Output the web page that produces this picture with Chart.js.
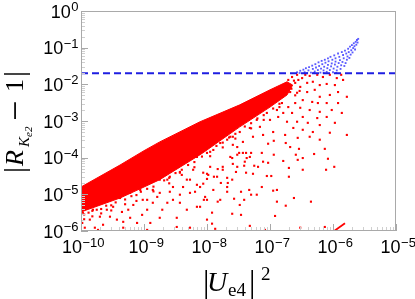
<!DOCTYPE html>
<html>
<head>
<meta charset="utf-8">
<script src="https://cdn.jsdelivr.net/npm/chart.js@4"></script>
<style>
  html, body { margin: 0; padding: 0; background: #fff; }
  canvas { display: block; }
</style>
</head>
<body>
<canvas id="chart" width="415" height="299"></canvas>
<script>
// axis decades (exponents of ten)
var uTickExp = [-10, -9, -8, -7, -6, -5];
var rTickExp = [-6, -5, -4, -3, -2, -1, 0];

// threshold |R - 1|
var threshold = 2e-2;

// dense band of points: upper and lower edge, [log10 |Ue4|^2, log10 |R-1|]
var bandTopExp = [
  [-10, -4.80], [-9.38, -4.20], [-9, -3.81], [-8.75, -3.57], [-8.11, -3.02], [-8, -2.94],
  [-7.48, -2.56], [-7, -2.15], [-6.73, -1.93], [-6.64, -2.02]
];
var bandBottomExp = [
  [-10, -5.48], [-9.38, -5.10], [-9, -4.80], [-8.75, -4.60], [-8.11, -3.92], [-8, -3.79],
  [-7.48, -3.16], [-7, -2.62], [-6.73, -2.29], [-6.64, -2.02]
];

// scattered red points below the threshold, [log10 |Ue4|^2, log10 |R-1|]
var redScatter = [
  [-6.13,-3.76],[-6.08,-4.03],[-5.98,-4.25],[-6.11,-4.33],[-6.30,-3.90],[-6.35,-5.20],[-6.48,-4.33],[-6.54,-3.76],
  [-6.48,-4.01],[-6.56,-4.06],[-6.59,-3.92],[-6.70,-4.28],[-6.70,-4.52],[-6.62,-5.10],[-6.75,-5.31],[-6.89,-5.20],
  [-6.89,-4.88],[-6.95,-4.90],[-6.92,-5.59],[-6.68,-3.71],[-6.75,-3.60],[-6.94,-3.54],[-6.79,-4.09],[-6.94,-3.92],
  [-7.03,-3.62],[-7.13,-3.87],[-7.03,-4.14],[-7.11,-4.11],[-7.19,-4.25],[-6.98,-4.50],[-7.05,-4.50],[-7.13,-4.80],
  [-7.21,-5.01],[-7.30,-5.01],[-7.33,-4.88],[-7.37,-4.01],[-7.32,-3.98],[-7.40,-4.11],[-7.38,-3.87],[-7.49,-3.87],
  [-7.41,-4.22],[-7.54,-4.39],[-7.38,-4.41],[-7.27,-4.44],[-7.46,-4.93],[-7.41,-5.15],[-7.57,-5.12],[-7.48,-5.29],
  [-7.60,-5.53],[-7.46,-5.56],[-7.67,-4.69],[-7.68,-4.93],[-7.83,-5.20],[-7.90,-4.88],[-7.92,-5.50],[-7.92,-5.80],
  [-8.00,-5.69],[-8.05,-5.15],[-8.06,-4.71],[-8.00,-4.44],[-8.00,-4.58],[-7.89,-4.52],[-7.83,-4.31],[-7.78,-4.69],
  [-7.68,-4.55],[-7.75,-4.33],[-7.59,-4.17],[-7.60,-4.01],[-7.52,-3.92],[-7.43,-3.87],[-7.30,-3.87],[-7.25,-4.22],
  [-6.13,-5.89],
  [-6.71,-1.88],[-6.65,-1.80],[-6.57,-1.74],[-6.49,-1.83],[-6.44,-1.74],[-6.37,-1.77],[-6.25,-1.74],[-6.16,-1.80],
  [-6.05,-1.74],[-5.94,-1.83],[-5.87,-1.74],[-6.60,-1.96],[-6.52,-2.07],[-6.41,-1.96],[-6.32,-1.93],[-6.21,-2.02],
  [-6.10,-1.99],[-5.97,-2.02],[-5.84,-1.88],[-6.41,-2.21],[-6.29,-2.15],[-6.57,-2.23],[-6.68,-2.21],[-6.21,-2.34],
  [-6.05,-2.29],[-5.92,-2.21],[-5.78,-2.34],[-6.48,-2.43],[-6.33,-2.48],[-6.24,-2.51],[-6.10,-2.51],[-5.92,-2.51],
  [-6.60,-2.51],[-6.71,-2.62],[-6.52,-2.64],[-6.37,-2.70],[-6.21,-2.75],[-6.02,-2.70],[-5.86,-2.78],[-6.65,-2.78],
  [-6.48,-2.89],[-6.25,-2.92],[-6.10,-2.89],[-6.57,-3.02],[-6.40,-3.05],[-6.21,-3.11],[-5.97,-3.05],[-5.78,-3.38],
  [-6.05,-3.32],[-6.32,-3.30],[-6.48,-3.24],[-6.63,-3.19],[-6.21,-3.51],[-6.37,-3.43],[-6.56,-3.46],[-6.76,-3.38],
  [-6.73,-3.02],[-6.79,-2.78],[-6.81,-2.51],[-7.63,-3.43],[-7.48,-3.30],[-7.32,-3.19],[-7.16,-3.16],[-7.00,-2.97],
  [-6.89,-2.70],[-6.87,-2.89],[-7.27,-3.43],[-7.11,-3.38],[-7.43,-3.57],[-7.59,-3.65],[-6.95,-3.30],[-7.21,-2.97],
  [-7.05,-2.78],
  [-9.97,-5.50],[-9.98,-5.78],[-9.94,-5.91],[-9.86,-5.69],[-9.78,-5.91],[-9.70,-5.61],[-9.81,-5.42],[-9.65,-5.83],
  [-9.59,-5.42],[-9.54,-5.61],[-9.49,-5.34],[-9.43,-5.69],[-9.35,-5.48],[-9.33,-5.75],[-9.25,-5.42],[-9.22,-5.64],
  [-9.17,-5.29],[-9.11,-5.78],[-9.03,-5.56],[-9.02,-5.15],[-8.95,-5.42],[-8.90,-5.78],[-8.86,-5.23],[-8.79,-5.07],
  [-8.75,-5.64],[-8.71,-5.42],[-8.63,-5.23],[-8.59,-4.93],[-8.54,-5.15],[-8.48,-5.64],[-8.43,-5.01],[-8.38,-4.80],
  [-8.32,-5.42],[-8.27,-4.60],[-8.19,-4.93],[-8.16,-4.74],[-8.11,-5.34],[-8.03,-5.07],[-7.98,-4.47],[-9.22,-4.96],
  [-9.06,-4.88],[-8.90,-4.69],[-9.38,-5.10],[-9.49,-5.10],[-8.75,-4.60],[-8.59,-4.52],[-8.43,-4.41],[-9.33,-5.91],
  [-9.73,-5.97],[-8.95,-5.97],[-8.48,-5.89],
  [-8.16,-3.98],[-8.00,-3.87],[-7.90,-3.79],[-7.79,-3.60],[-7.68,-3.51],[-7.59,-3.43],[-7.52,-3.71],[-7.63,-3.98],
  [-7.75,-4.25],[-7.84,-4.52],[-7.95,-4.25],[-8.06,-4.41],[-8.22,-4.33],[-8.32,-4.60],[-8.43,-4.39],[-8.54,-4.80],
  [-8.63,-4.60],[-8.75,-4.96],[-8.86,-4.88],[-8.95,-5.15],[-8.27,-4.96],[-8.11,-4.80],[-7.68,-4.80],[-7.52,-4.25],
  [-7.60,-4.60],[-7.79,-5.15],[-8.00,-5.15],[-8.16,-5.34],[-8.43,-5.23],
  [-8.27,-5.91],[-7.87,-5.94],[-7.32,-5.86],[-7.08,-5.97],[-6.52,-5.91],
  // points hugging the lower edge of the band
  [-9.95,-5.55],[-9.95,-5.68],[-9.88,-5.50],[-9.82,-5.60],[-9.82,-5.45],[-9.75,-5.42],[-9.68,-5.40],[-9.68,-5.52],
  [-9.60,-5.31],[-9.52,-5.30],[-9.52,-5.44],[-9.45,-5.22],[-9.30,-5.14],[-9.30,-5.27],[-9.20,-5.05],[-9.12,-5.02],
  [-9.12,-5.18],[-9.05,-4.93],[-8.95,-4.85],[-8.85,-4.79],[-8.85,-4.92],[-8.68,-4.62],[-8.60,-4.55],[-8.60,-4.70],
  [-8.50,-4.42],[-8.40,-4.33],[-8.40,-4.47],[-8.30,-4.20],[-8.20,-4.12],[-8.20,-4.26],[-8.08,-3.97],[-7.95,-3.84],
  [-7.95,-3.96],[-7.85,-3.68],[-7.75,-3.59],[-7.75,-3.72],[-7.65,-3.45],[-7.55,-3.35],[-7.55,-3.48],[-7.40,-3.15],
  [-7.30,-3.06],[-7.30,-3.20],[-7.20,-2.93],[-7.10,-2.84],[-7.10,-2.97],[-6.95,-2.66],[-6.85,-2.53],[-6.85,-2.62],
  [-6.70,-2.05],[-6.66,-2.12],[-6.62,-1.90],[-6.55,-1.88],[-6.60,-2.30],[-6.53,-2.18]
];

// blue points above the threshold, [log10 |Ue4|^2, log10 |R-1|]
var blueScatter = [
  [-6.57,-1.67],[-6.53,-1.69],[-6.52,-1.63],[-6.47,-1.60],[-6.45,-1.67],[-6.43,-1.56],[-6.39,-1.62],[-6.38,-1.53],
  [-6.35,-1.68],[-6.33,-1.49],[-6.32,-1.58],[-6.29,-1.65],[-6.28,-1.45],[-6.27,-1.54],[-6.24,-1.61],[-6.23,-1.40],
  [-6.22,-1.50],[-6.20,-1.68],[-6.19,-1.57],[-6.18,-1.36],[-6.17,-1.45],[-6.15,-1.62],[-6.14,-1.52],[-6.13,-1.33],
  [-6.12,-1.41],[-6.10,-1.66],[-6.09,-1.56],[-6.08,-1.29],[-6.08,-1.47],[-6.07,-1.37],[-6.05,-1.61],[-6.04,-1.25],
  [-6.03,-1.51],[-6.02,-1.43],[-6.01,-1.33],[-6.00,-1.67],[-5.99,-1.57],[-5.98,-1.21],[-5.97,-1.46],[-5.96,-1.29],
  [-5.96,-1.38],[-5.94,-1.62],[-5.93,-1.52],[-5.92,-1.16],[-5.91,-1.42],[-5.90,-1.25],[-5.89,-1.34],[-5.88,-1.58],
  [-5.87,-1.48],[-5.86,-1.12],[-5.85,-1.39],[-5.84,-1.20],[-5.83,-1.29],[-5.82,-1.50],[-5.81,-1.08],[-5.80,-1.42],
  [-5.79,-1.16],[-5.78,-1.33],[-5.77,-1.24],[-5.76,-1.03],[-5.75,-1.12],[-5.74,-1.28],[-5.73,-0.97],[-5.72,-1.19],
  [-5.71,-1.07],[-5.70,-0.93],[-5.69,-1.13],[-5.68,-1.01],[-5.67,-0.88],[-5.66,-0.96],[-5.65,-1.05],[-5.64,-0.84],
  [-5.63,-0.92],[-5.62,-0.79],[-5.61,-0.86],[-5.60,-0.76],[-6.30,-1.69],[-6.15,-1.69],[-5.95,-1.69],[-6.41,-1.69]
];

// short red trail at the bottom
var trailU = [1.0e-6, 1.55e-6];
var trailR = [9.5e-7, 1.62e-6];

function toPoints(list) {
  return list.map(function (p) { return { x: Math.pow(10, p[0]), y: Math.pow(10, p[1]) }; });
}
function zipPoints(xs, ys) {
  return xs.map(function (x, i) { return { x: x, y: ys[i] }; });
}

function minusSign(n) {
  return String(n).replace("-", "\u2212");
}

function drawPower(ctx, exp, x, y, center) {
  ctx.font = '18px "Liberation Sans"';
  var wb = ctx.measureText("10").width;
  var sup = minusSign(exp);
  ctx.font = '13px "Liberation Sans"';
  var ws = ctx.measureText(sup).width;
  var x0 = center ? x - (wb + ws) / 2 : x - wb - ws;
  ctx.font = '18px "Liberation Sans"';
  ctx.fillText("10", x0, y);
  ctx.font = '13px "Liberation Sans"';
  ctx.fillText(sup, x0 + wb + 0.5, y - 6.5);
}

var framePlugin = {
  id: "framePlugin",
  afterDraw: function (chart) {
    var ctx = chart.ctx;
    var a = chart.chartArea;
    var xs = chart.scales.x;
    var ys = chart.scales.y;
    ctx.save();

    // minor and major ticks, inside the frame
    ctx.lineWidth = 1;
    uTickExp.forEach(function (e, i) {
      for (var m = 1; m <= 9; m++) {
        if (m > 1 && i == uTickExp.length - 1) break;
        var px = Math.round(xs.getPixelForValue(m * Math.pow(10, e))) + 0.5;
        ctx.strokeStyle = m == 1 ? "#a8a8a8" : "#cfcfcf";
        ctx.beginPath();
        ctx.moveTo(px, a.bottom);
        ctx.lineTo(px, a.bottom - (m == 1 ? 7 : 4));
        ctx.stroke();
      }
    });
    rTickExp.forEach(function (e, i) {
      for (var m = 1; m <= 9; m++) {
        if (m > 1 && i == rTickExp.length - 1) break;
        var py = Math.round(ys.getPixelForValue(m * Math.pow(10, e))) + 0.5;
        ctx.strokeStyle = m == 1 ? "#a8a8a8" : "#cfcfcf";
        ctx.beginPath();
        ctx.moveTo(a.left, py);
        ctx.lineTo(a.left + (m == 1 ? 7 : 4), py);
        ctx.stroke();
      }
    });

    // frame
    ctx.strokeStyle = "#a9a9a9";
    ctx.strokeRect(a.left + 0.5, a.top + 0.5, a.right - a.left - 1, a.bottom - a.top - 1);

    // tick labels
    ctx.fillStyle = "#000";
    ctx.textAlign = "left";
    ctx.textBaseline = "alphabetic";
    uTickExp.forEach(function (e) {
      drawPower(ctx, e, xs.getPixelForValue(Math.pow(10, e)) + 2, 253, true);
    });
    rTickExp.forEach(function (e) {
      drawPower(ctx, e, 78, ys.getPixelForValue(Math.pow(10, e)) + 6.5, false);
    });

    // x title |U_e4|^2
    ctx.font = '32px "Liberation Serif"';
    ctx.fillText("|", 203, 292);
    ctx.font = 'italic 28px "Liberation Serif"';
    ctx.fillText("U", 207, 291);
    ctx.font = '19px "Liberation Serif"';
    ctx.fillText("e4", 228, 296);
    ctx.font = '32px "Liberation Serif"';
    ctx.fillText("|", 249, 292);
    ctx.font = '19px "Liberation Serif"';
    ctx.fillText("2", 261, 280);

    // y title |R_{K_e2} - 1|, rotated; [text, font, baseline shift, position along text]
    var parts = [
      ["|", '30px "Liberation Serif"', 1, -53],
      ["R", 'italic 26px "Liberation Serif"', 0, -46],
      ["K", 'italic 15px "Liberation Serif"', 6, -27],
      ["e2", 'italic 11px "Liberation Serif"', 9, -17],
      ["\u2212", '36px "Liberation Serif"', 3.5, -1],
      ["1", '26px "Liberation Serif"', 0, 28],
      ["|", '30px "Liberation Serif"', 1, 43]
    ];
    ctx.translate(23, 120);
    ctx.rotate(-Math.PI / 2);
    parts.forEach(function (p) {
      ctx.font = p[1];
      ctx.fillText(p[0], p[3], p[2]);
    });
    ctx.restore();
  }
};

var ctx = document.getElementById("chart").getContext("2d");
var chart = new Chart(ctx, {
  type: "scatter",
  data: {
    datasets: [
      {
        type: "line",
        data: toPoints(bandTopExp),
        borderColor: "rgb(255,0,0)",
        borderWidth: 1,
        backgroundColor: "rgb(255,0,0)",
        pointRadius: 0,
        tension: 0,
        fill: "+1",
        order: 6,
      },
      {
        type: "line",
        data: toPoints(bandBottomExp),
        borderColor: "rgb(255,0,0)",
        borderWidth: 1,
        pointRadius: 0,
        tension: 0,
        fill: false,
        order: 5,
      },
      {
        data: toPoints(redScatter),
        backgroundColor: "rgb(255,0,0)",
        pointStyle: "rect",
        pointRadius: 1.5,
        pointBorderWidth: 0,
        order: 4,
      },
      {
        data: toPoints(blueScatter),
        backgroundColor: "rgba(60,60,255,0.85)",
        pointStyle: "rect",
        pointRadius: 1.3,
        pointBorderWidth: 0,
        order: 3,
      },
      {
        type: "line",
        data: zipPoints(trailU, trailR),
        borderColor: "rgb(255,0,0)",
        borderWidth: 1.8,
        pointRadius: 0,
        fill: false,
        order: 2,
      },
      {
        type: "line",
        data: [{ x: 1e-10, y: threshold }, { x: 1e-5, y: threshold }],
        borderColor: "rgb(30,30,225)",
        borderWidth: 2,
        borderDash: [7, 4],
        pointRadius: 0,
        fill: false,
        order: 1,
      },
    ],
  },
  options: {
    responsive: false,
    devicePixelRatio: 1,
    animation: false,
    layout: { padding: { left: 81, right: 19, top: 11, bottom: 68 } },
    plugins: { legend: { display: false }, tooltip: { enabled: false } },
    scales: {
      x: { type: "logarithmic", min: 1e-10, max: 1e-5, display: false },
      y: { type: "logarithmic", min: 1e-6, max: 1, display: false },
    },
  },
  plugins: [framePlugin],
});
</script>
</body>
</html>
